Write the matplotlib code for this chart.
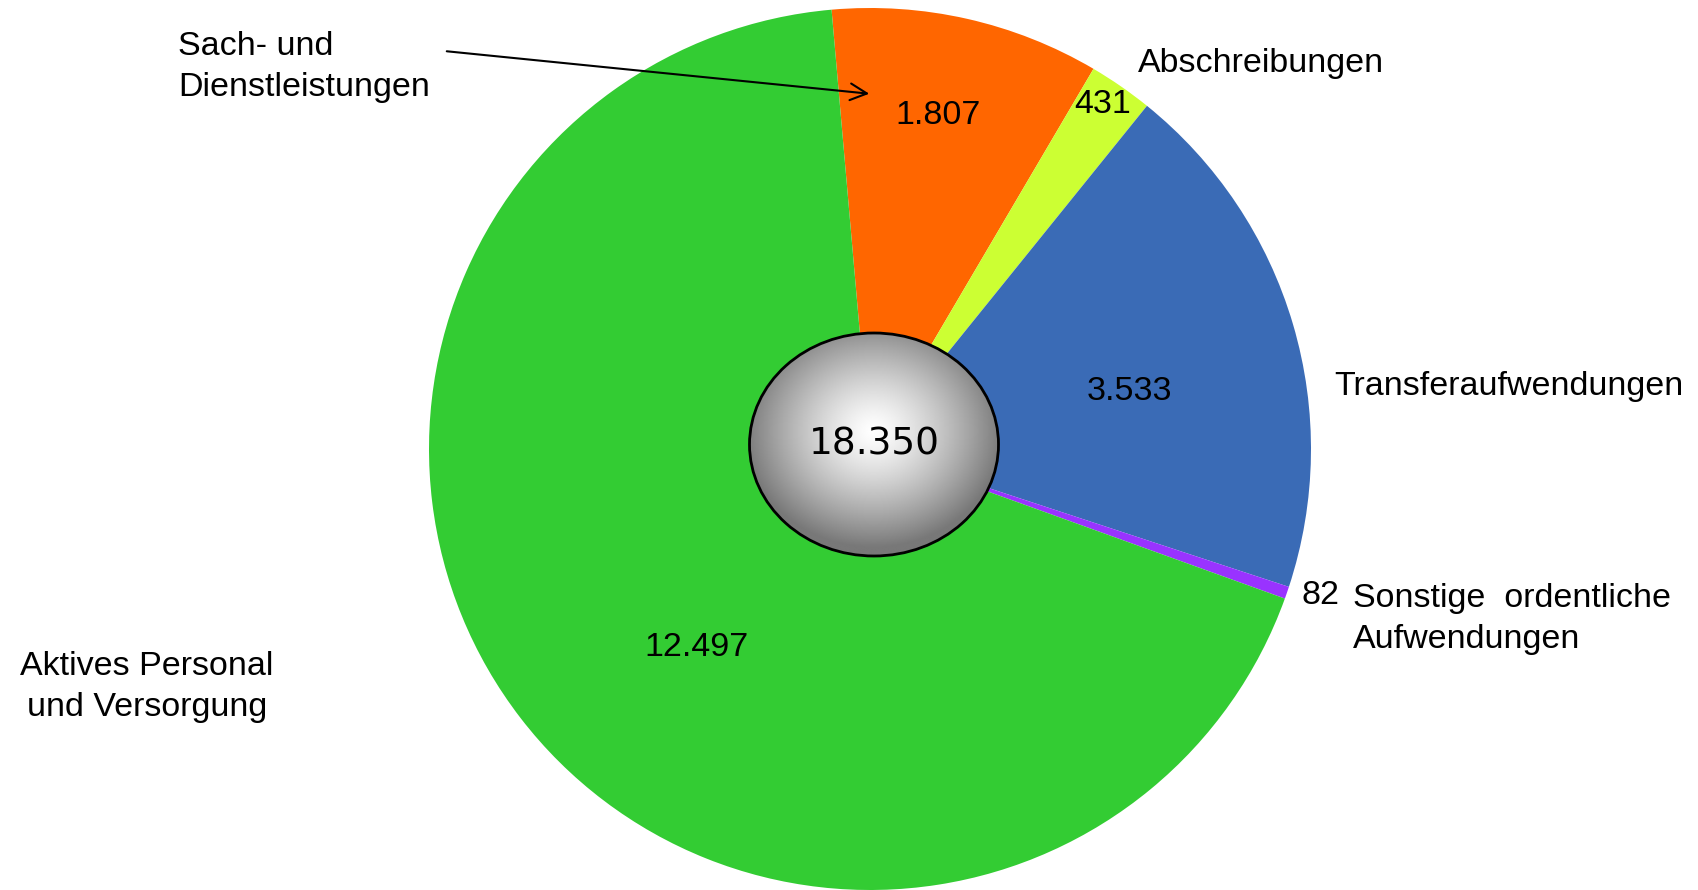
import numpy as np
import matplotlib
matplotlib.use('Agg')
import matplotlib.pyplot as plt
from matplotlib.patches import Ellipse

# Aufwendungen (Mio. Euro)
categories = ['Sach- und\nDienstleistungen', 'Abschreibungen', 'Transferaufwendungen',
              'Sonstige  ordentliche\nAufwendungen', 'Aktives Personal\nund Versorgung']
values = [1807, 431, 3533, 82, 12497]
colors = ['#FF6600', '#CCFF33', '#3A6BB6', '#9933FF', '#33CC33']

W, H = 1699, 890
FONT = 'Liberation Sans'
FS = 24.5
LS = 1.45


def de(v):
    return f'{v:,}'.replace(',', '.')


fig = plt.figure(figsize=(W / 100, H / 100), dpi=100)
ax = fig.add_axes([0, 0, 1, 1])

ax.pie(values, colors=colors, startangle=95, counterclock=False,
       center=(870, H - 449), radius=441, frame=True,
       wedgeprops=dict(linewidth=0))

ax.set_xlim(0, W)
ax.set_ylim(0, H)
ax.set_aspect('equal')
ax.axis('off')

# center ellipse with radial gradient
ecx, ecy, ew, eh = 874, H - 444.5, 249, 223
yy, xx = np.mgrid[-1:1:300j, -1:1:300j]
r = np.sqrt(xx ** 2 + (yy + 0.12) ** 2)
grad = np.clip(1 - 0.5 * r ** 1.3, 0.47, 1)
ell = Ellipse((ecx, ecy), ew, eh, facecolor='none', edgecolor='black', lw=2, zorder=4)
ax.add_patch(ell)
im = ax.imshow(grad, cmap='gray', vmin=0, vmax=1, origin='upper',
               extent=(ecx - ew / 2, ecx + ew / 2, ecy - eh / 2, ecy + eh / 2),
               zorder=3, interpolation='bilinear')
im.set_clip_path(ell)
ax.set_xlim(0, W)
ax.set_ylim(0, H)

ax.text(ecx, ecy, de(sum(values)), ha='center', va='center', fontsize=27,
        family='DejaVu Sans', zorder=5)

# value labels
val_pos = [(938, 115), (1103, 104), (1129, 392), (1302, 596), (697, 647)]
for v, (x, y) in zip(values, val_pos):
    ax.text(x, H - y, de(v), ha='center' if v != 82 else 'left', va='center',
            fontsize=FS, family=FONT)

# category labels
ax.text(178, H - 67, categories[0], ha='left', va='center', fontsize=FS,
        family=FONT, linespacing=LS)
ax.text(1138, H - 63, categories[1], ha='left', va='center', fontsize=FS, family=FONT)
ax.text(1334, H - 386, categories[2], ha='left', va='center', fontsize=FS, family=FONT)
ax.text(1353, H - 619, categories[3], ha='left', va='center', fontsize=FS,
        family=FONT, linespacing=LS)
ax.text(147, H - 687, categories[4], ha='center', va='center', fontsize=FS,
        family=FONT, linespacing=LS)

ax.annotate('', xy=(872, H - 94), xytext=(444, H - 51),
            arrowprops=dict(arrowstyle='->', lw=1.5, color='black', mutation_scale=30))

fig.savefig('out.png', dpi=100, facecolor='white')
